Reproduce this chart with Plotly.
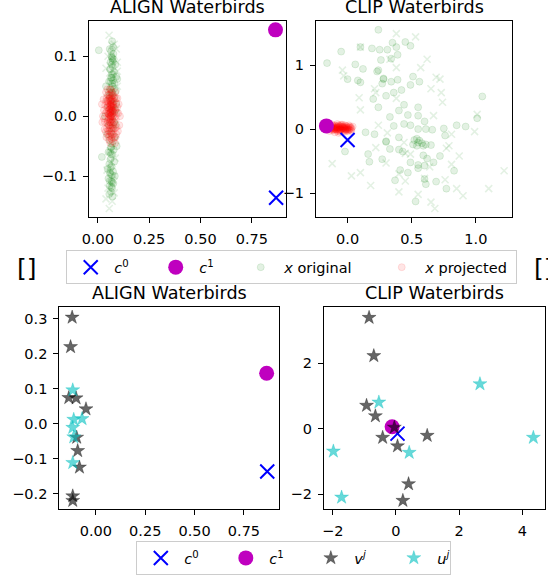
import plotly.graph_objects as go

# ---------------- data ----------------
# ALIGN Waterbirds (top)
align_c0 = (0.868, -0.136)
align_c1 = (0.865, 0.144)
align_orig_circ = [(0.005,0.110),(0.07,0.125),(0.075,0.115),(0.065,0.108),(0.07,0.098),(0.078,0.095),(0.062,0.090),
    (0.085,0.086),(0.073,0.082),(0.060,0.078),(0.080,0.074),(0.068,0.070),(0.090,0.066),(0.064,0.064),(0.075,0.060),
    (0.055,0.058),(0.082,0.055),(0.070,0.050),(0.060,0.046),(0.088,0.042),(0.072,0.038),(0.058,0.034),(0.080,0.030),
    (0.065,0.026),(0.075,0.020),(0.050,0.015),(0.085,0.010),(0.062,0.005),(0.070,-0.002),(0.080,-0.010),(0.055,-0.015),
    (0.074,-0.020),(0.064,-0.028),(0.082,-0.034),(0.058,-0.040),(0.070,-0.046),(0.066,-0.052),(0.078,-0.056),
    (0.052,-0.060),(0.072,-0.064),(0.020,-0.068),(0.062,-0.072),(0.080,-0.076),(0.056,-0.080),(0.068,-0.084),
    (0.048,-0.088),(0.074,-0.092),(0.060,-0.096),(0.083,-0.100),(0.052,-0.104),(0.066,-0.108),(0.076,-0.112),
    (0.058,-0.116),(0.070,-0.120),(0.064,-0.126),(0.056,-0.130),(0.072,-0.134),(0.090,0.020),(0.095,0.062),
    (0.040,0.050),(0.045,-0.030),(0.092,-0.050),(0.087,-0.014),(0.035,0.000),(0.070,0.096),(0.068,0.064),
    (0.064,-0.052),(0.060,-0.094),(0.066,0.100),(0.072,0.092),(0.068,0.086),(0.074,0.070),(0.062,0.058),
    (0.070,0.054),(0.066,0.040),(0.074,0.010),(0.060,-0.060),(0.066,-0.064),(0.062,-0.086),(0.068,-0.098),
    (0.058,-0.108),(0.066,-0.118),(0.070,-0.110),(0.076,0.104),(0.058,0.112),(0.080,0.046),(0.054,0.040)]
align_orig_x = [(0.055,0.135),(0.080,0.120),(0.090,0.112),(0.050,0.100),(0.095,0.090),(0.058,0.072),(0.095,0.050),
    (0.045,0.030),(0.092,0.005),(0.050,-0.010),(0.088,-0.040),(0.060,-0.058),(0.085,-0.070),(0.045,-0.090),
    (0.078,-0.100),(0.050,-0.120),(0.080,-0.128),(0.040,-0.138),(0.070,-0.142),(0.056,-0.154),(0.095,0.075),
    (0.040,0.080),(0.068,0.118),(0.064,-0.076),(0.072,-0.106),(0.060,0.084)]
align_proj = [(0.020,0.020),(0.030,0.010),(0.025,0.000),(0.035,-0.010),(0.040,0.025),(0.045,0.015),(0.050,0.005),
    (0.055,-0.005),(0.060,0.030),(0.065,0.020),(0.070,0.010),(0.075,0.000),(0.080,-0.010),(0.085,-0.020),(0.090,-0.030),
    (0.095,0.015),(0.100,0.005),(0.105,-0.015),(0.045,-0.020),(0.050,-0.030),(0.055,-0.040),(0.060,-0.010),
    (0.065,-0.020),(0.070,-0.030),(0.075,0.035),(0.080,0.025),(0.085,0.040),(0.040,0.040),(0.050,0.035),(0.060,0.045),
    (0.065,0.000),(0.070,-0.005),(0.058,0.012),(0.062,-0.015),(0.068,0.015),(0.052,0.022),(0.048,-0.008),(0.072,0.028),
    (0.078,-0.022),(0.082,0.008),(0.088,-0.005),(0.092,-0.018),(0.038,0.005),(0.033,-0.022),(0.042,-0.035),
    (0.057,-0.025),(0.066,-0.038),(0.074,-0.042),(0.086,-0.035),(0.098,-0.025),(0.096,0.030),(0.102,0.020),
    (0.064,0.038),(0.054,0.028),(0.044,0.008),(0.076,0.018),(0.059,0.002),(0.063,0.007),(0.067,-0.010),(0.071,0.004),
    (0.053,-0.015),(0.081,0.032),(0.036,0.018),(0.028,0.028),(0.090,0.022),(0.047,0.045),(0.061,-0.045),
    (0.084,-0.045),(0.108,0.000),(0.022,-0.010),
    (0.056,0.003),(0.061,0.018),(0.066,0.008),(0.071,-0.016),(0.058,-0.020),(0.063,0.024),(0.069,0.022),
    (0.054,0.010),(0.073,-0.008),(0.060,-0.004),(0.064,-0.008),(0.068,0.002),(0.057,0.016),(0.062,0.012),
    (0.066,-0.026),(0.072,0.016),(0.052,-0.002),(0.077,0.006),(0.059,-0.032),(0.065,0.032),(0.070,0.040),
    (0.049,0.018),(0.076,-0.030),(0.083,-0.002),(0.046,-0.012),(0.079,0.014),(0.055,0.036),(0.061,0.026),
    (0.067,0.028),(0.058,-0.010),(0.064,0.016),(0.069,-0.020),(0.074,0.024),(0.051,-0.024),(0.086,0.012),
    (0.043,0.030),(0.080,-0.036),(0.062,0.000),(0.066,0.012),(0.060,0.006),(0.063,-0.002),(0.057,0.030),
    (0.068,-0.034),(0.073,0.008),(0.054,-0.034),(0.089,0.030),(0.039,-0.026),(0.093,0.006),(0.031,-0.004),
    (0.047,0.026),(0.071,0.034),(0.075,-0.014),(0.053,0.004),(0.065,0.044),(0.060,0.020),(0.067,0.018)]

# CLIP Waterbirds (top)
clip_c0 = (0.0, -0.17)
clip_c1 = (-0.165, 0.05)
clip_orig_circ = [(0.24,1.55),(-0.05,1.21),(-0.16,1.03),(0.10,1.28),(0.19,1.26),(0.25,1.24),(0.31,1.24),(0.35,1.35),
    (0.38,1.28),(0.45,1.36),(0.49,1.30),(0.26,1.08),(0.34,1.10),(0.39,1.16),(0.06,1.01),(0.12,0.94),(0.00,0.78),
    (0.08,0.76),(0.10,0.73),(0.23,0.90),(0.28,0.79),(0.27,0.71),(0.34,0.74),(0.39,0.77),(0.51,0.82),(0.56,0.74),
    (0.49,0.69),(0.42,0.61),(0.36,0.57),(0.30,0.52),(0.20,0.47),(0.24,0.34),(0.33,0.19),(0.40,0.29),(0.44,0.38),
    (0.55,0.34),(0.55,0.21),(0.60,0.12),(0.47,0.22),(0.36,0.05),(0.44,0.08),(0.49,0.06),(0.55,0.00),(0.61,0.00),
    (0.66,-0.01),(0.75,0.01),(0.85,0.06),(0.92,0.04),(1.01,0.17),(1.05,0.51),(0.14,-0.05),(0.21,-0.08),(0.30,-0.20),
    (0.40,-0.13),(0.54,-0.15),(0.51,-0.24),(0.54,-0.26),(0.59,-0.26),(0.65,-0.25),(0.59,-0.41),(0.62,-0.46),
    (0.76,-0.10),(0.72,-0.42),(0.67,-0.52),(0.60,-0.57),(0.55,-0.56),(0.49,-0.52),(0.40,-0.32),(0.43,-0.35),
    (0.16,-0.39),(0.17,-0.51),(0.27,-0.47),(-0.02,-0.35),(0.37,-0.80),(0.41,-0.64),(0.47,-0.68),(0.55,-0.61),
    (0.60,-0.78),(0.61,-0.86),(0.69,-0.82),(0.77,-0.93),(0.83,-0.65),(0.53,-1.13),(0.56,-0.18),(0.58,-0.22),
    (0.61,-0.24),(0.24,0.92),(0.28,0.78),(0.30,-0.19),(0.33,-0.31),(0.52,-0.17),(0.55,-0.21)]
clip_orig_x = [(0.38,1.49),(0.53,1.44),(0.62,1.09),(0.10,1.28),(-0.04,0.92),(-0.03,0.83),(0.33,1.09),(0.38,0.96),
    (0.57,0.96),(0.69,0.81),(0.72,0.78),(0.21,0.63),(0.22,0.57),(0.65,0.63),(0.73,0.57),(0.09,0.49),(0.10,0.30),
    (0.38,0.48),(0.74,0.42),(0.67,0.21),(0.24,0.06),(0.31,-0.06),(0.45,-0.38),(0.49,-0.39),(0.77,-0.30),(0.79,-0.26),
    (0.81,-0.08),(0.99,-0.04),(1.01,0.23),(-0.12,-0.54),(0.03,-0.73),(0.10,-0.68),(0.18,-0.88),(0.22,-0.29),
    (0.30,-0.53),(0.40,-0.70),(0.45,-0.81),(0.60,-0.77),(0.64,-0.59),(0.76,-0.79),(0.81,-0.55),(0.87,-0.42),
    (0.85,-0.93),(0.90,-1.04),(0.68,-1.24),(0.65,-1.14),(0.40,-0.98),(0.55,-1.02),(1.22,-0.65),(1.10,-0.93),(0.44,-0.21)]
clip_proj = [(-0.15,0.02),(-0.13,0.04),(-0.12,-0.02),(-0.11,0.05),(-0.10,0.00),(-0.09,0.03),(-0.08,-0.03),(-0.07,0.06),
    (-0.06,0.01),(-0.05,-0.01),(-0.04,0.04),(-0.03,0.02),(-0.02,-0.02),(-0.01,0.05),(0.00,0.01),(0.01,0.03),(0.02,-0.01),
    (0.03,0.02),(-0.14,-0.03),(-0.12,0.07),(-0.10,-0.05),(-0.08,0.08),(-0.06,-0.04),(-0.04,0.07),(-0.02,0.06),
    (0.00,-0.03),(-0.11,0.01),(-0.09,-0.01),(-0.07,0.02),(-0.05,0.03),(-0.03,-0.03),(-0.01,0.00),(0.01,0.06),
    (0.03,-0.03),(0.04,0.04),(-0.13,0.00),(-0.07,-0.06),(-0.05,0.07),(-0.09,0.05),(-0.02,0.03),
    (-0.12,0.02),(-0.10,0.03),(-0.08,0.01),(-0.06,0.03),(-0.04,0.01),(-0.02,0.00),(0.00,0.03),(0.02,0.02),
    (-0.11,-0.01),(-0.09,0.00),(-0.07,-0.01),(-0.05,0.00),(-0.03,0.01),(-0.01,-0.01),(0.01,0.00),(0.03,0.00),
    (-0.13,0.03),(-0.11,0.03),(-0.09,0.02),(-0.07,0.04),(-0.05,0.05),(-0.03,0.04),(-0.01,0.03),(0.01,-0.02),
    (-0.10,0.01),(-0.08,0.02),(-0.06,-0.01),(-0.04,-0.02),(-0.02,0.01),(0.00,-0.01),(-0.12,0.00),(-0.08,-0.01),
    (-0.06,0.05),(-0.04,0.03),(-0.14,0.01),(-0.10,0.06),(-0.06,-0.02),(-0.02,-0.04),(0.02,0.04),(-0.08,0.04)]

# bottom panels: v^j and u^j
align_v = [(-0.12,0.303),(-0.128,0.219),(-0.137,0.074),(-0.10,0.073),(-0.05,0.042),(-0.097,-0.039),(-0.092,-0.077),
    (-0.083,-0.124),(-0.117,-0.206),(-0.117,-0.219)]
align_u = [(-0.117,0.096),(-0.112,0.012),(-0.07,0.014),(-0.117,-0.011),(-0.112,-0.038),(-0.117,-0.111)]
clip_v = [(-0.85,3.40),(-0.70,2.23),(-0.93,0.71),(-0.65,0.39),(-0.05,0.04),(-0.42,-0.27),(0.05,-0.53),(0.99,-0.21),
    (0.40,-1.69),(0.22,-2.20)]
clip_u = [(-0.54,0.81),(-1.98,-0.69),(-1.72,-2.10),(0.42,-0.73),(2.66,1.37),(4.35,-0.27)]
clip_c0_b = (0.05, -0.15)
clip_c1_b = (-0.12, 0.06)

# ---------------- layout geometry ----------------
W, H = 548, 575
def px_x(a, b):
    return [a / W, b / W]
def px_y(top, bot):
    return [1 - bot / H, 1 - top / H]

FONT = "DejaVu Sans"
FS = 14.5

def xs(pts): return [p[0] for p in pts]
def ys(pts): return [p[1] for p in pts]

fig = go.Figure()

C0_NAME = "<i>c</i><sup>0</sup>"
C1_NAME = "<i>c</i><sup>1</sup>"
BLUE = "#0000ff"
MAG = "#bf00bf"
GFILL = "rgba(0,128,0,0.11)"
RFILL = "rgba(255,0,0,0.1)"

def c0_trace(pt, ax, legend, show, lw):
    return go.Scatter(x=[pt[0]], y=[pt[1]], mode="markers", xaxis=ax[0], yaxis=ax[1], name=C0_NAME,
                      legend=legend, showlegend=show, legendrank=1, legendwidth=lw,
                      marker=dict(symbol="x-thin", size=14, color=BLUE, line=dict(color=BLUE, width=2)))

def c1_trace(pt, ax, legend, show, lw):
    return go.Scatter(x=[pt[0]], y=[pt[1]], mode="markers", xaxis=ax[0], yaxis=ax[1], name=C1_NAME,
                      legend=legend, showlegend=show, legendrank=2, legendwidth=lw,
                      marker=dict(symbol="circle", size=15, color=MAG, line=dict(width=0)))

# top panels
for ax, circ, xx, proj, c0, c1, show in [
        (("x", "y"), align_orig_circ, align_orig_x, align_proj, align_c0, align_c1, True),
        (("x2", "y2"), clip_orig_circ, clip_orig_x, clip_proj, clip_c0, clip_c1, False)]:
    fig.add_trace(go.Scatter(x=xs(circ), y=ys(circ), mode="markers", xaxis=ax[0], yaxis=ax[1],
                             name="<i>x</i> original", legend="legend", showlegend=show, legendrank=3, legendwidth=89,
                             marker=dict(symbol="circle", size=7, color=GFILL, line=dict(color=GFILL, width=1))))
    fig.add_trace(go.Scatter(x=xs(xx), y=ys(xx), mode="markers", xaxis=ax[0], yaxis=ax[1],
                             showlegend=False,
                             marker=dict(symbol="x-thin", size=7, color=GFILL, line=dict(color=GFILL, width=1.6))))
    fig.add_trace(go.Scatter(x=xs(proj), y=ys(proj), mode="markers", xaxis=ax[0], yaxis=ax[1],
                             name="<i>x</i> projected", legend="legend", showlegend=show, legendrank=4, legendwidth=86,
                             marker=dict(symbol="circle", size=7, color=RFILL, line=dict(color=RFILL, width=1))))
    fig.add_trace(c0_trace(c0, ax, "legend", show, 33))
    fig.add_trace(c1_trace(c1, ax, "legend", show, 33))

# bottom panels
GRAY = "rgba(0,0,0,0.6)"
CYAN = "rgba(0,191,191,0.6)"
for ax, v, u, c0, c1, show in [
        (("x3", "y3"), align_v, align_u, align_c0, align_c1, True),
        (("x4", "y4"), clip_v, clip_u, clip_c0_b, clip_c1_b, False)]:
    fig.add_trace(c0_trace(c0, ax, "legend2", show, 33))
    fig.add_trace(c1_trace(c1, ax, "legend2", show, 33))
    fig.add_trace(go.Scatter(x=xs(v), y=ys(v), mode="markers", xaxis=ax[0], yaxis=ax[1],
                             name="<i>v</i><sup><i>j</i></sup>", legend="legend2", showlegend=show, legendrank=3,
                             legendwidth=31,
                             marker=dict(symbol="star", size=10.5, color=GRAY, line=dict(color=GRAY, width=0.5))))
    fig.add_trace(go.Scatter(x=xs(u), y=ys(u), mode="markers", xaxis=ax[0], yaxis=ax[1],
                             name="<i>u</i><sup><i>j</i></sup>", legend="legend2", showlegend=show, legendrank=4,
                             legendwidth=8,
                             marker=dict(symbol="star", size=10.5, color=CYAN, line=dict(color=CYAN, width=0.5))))

def axis(domain, rng, tickvals, fmt, anchor):
    return dict(domain=domain, range=rng, tickvals=tickvals, tickformat=fmt, anchor=anchor,
                showline=True, mirror=True, linecolor="black", linewidth=1, ticks="outside", ticklen=5,
                tickcolor="black", tickwidth=1, showgrid=False, zeroline=False, ticklabelstandoff=3,
                tickfont=dict(family=FONT, size=FS, color="black"))

TOP = px_y(21, 219)
BOT = px_y(309, 513)
fig.update_layout(
    width=W, height=H, margin=dict(l=0, r=0, t=0, b=0, pad=0),
    plot_bgcolor="white", paper_bgcolor="white",
    font=dict(family=FONT, size=FS, color="black"),
    xaxis=axis(px_x(83, 283), [-0.043, 0.918], [0, 0.25, 0.5, 0.75], ".2f", "y"),
    yaxis=axis(TOP, [-0.169, 0.159], [-0.1, 0.0, 0.1], ".1f", "x"),
    xaxis2=axis(px_x(313, 512), [-0.246, 1.285], [0, 0.5, 1.0], ".1f", "y2"),
    yaxis2=axis(TOP, [-1.38, 1.69], [-1, 0, 1], "d", "x2"),
    xaxis3=axis(px_x(53, 276), [-0.185, 0.93], [0, 0.25, 0.5, 0.75], ".2f", "y3"),
    yaxis3=axis(BOT, [-0.244, 0.333], [-0.2, -0.1, 0.0, 0.1, 0.2, 0.3], ".1f", "x3"),
    xaxis4=axis(px_x(321, 545), [-2.28, 4.72], [-2, 0, 2, 4], "d", "y4"),
    yaxis4=axis(BOT, [-2.47, 3.73], [-2, 0, 2], "d", "x4"),
    legend=dict(orientation="h", x=60 / W, y=1 - 252 / H, xanchor="left", yanchor="top",
                bgcolor="white", bordercolor="#cccccc", borderwidth=1, itemwidth=37,
                font=dict(family=FONT, size=FS, color="black"), traceorder="normal"),
    legend2=dict(orientation="h", x=131 / W, y=1 - 545 / H, xanchor="left", yanchor="top",
                 bgcolor="white", bordercolor="#cccccc", borderwidth=1, itemwidth=37,
                 font=dict(family=FONT, size=FS, color="black"), traceorder="normal"),
)

TFS = 17.6
for cx, bottom_px, text in [((83 + 283) / 2, 19, "ALIGN Waterbirds"), ((313 + 512) / 2, 19, "CLIP Waterbirds"),
                            ((53 + 276) / 2, 307, "ALIGN Waterbirds"), ((321 + 545) / 2, 307, "CLIP Waterbirds")]:
    fig.add_annotation(x=cx / W, y=1 - bottom_px / H, xref="paper", yref="paper", xanchor="center",
                       yanchor="bottom", text=text, showarrow=False,
                       font=dict(family=FONT, size=TFS, color="black"))

for cx in [20, 544]:
    fig.add_annotation(x=cx / W, y=1 - 270 / H, xref="paper", yref="paper", xanchor="center", yanchor="middle",
                       text="[]", showarrow=False, font=dict(family=FONT, size=25, color="black"))

fig.write_html("out.html", config={"displayModeBar": False},
               post_script="document.body.style.margin='0';document.body.style.overflow='hidden';")
